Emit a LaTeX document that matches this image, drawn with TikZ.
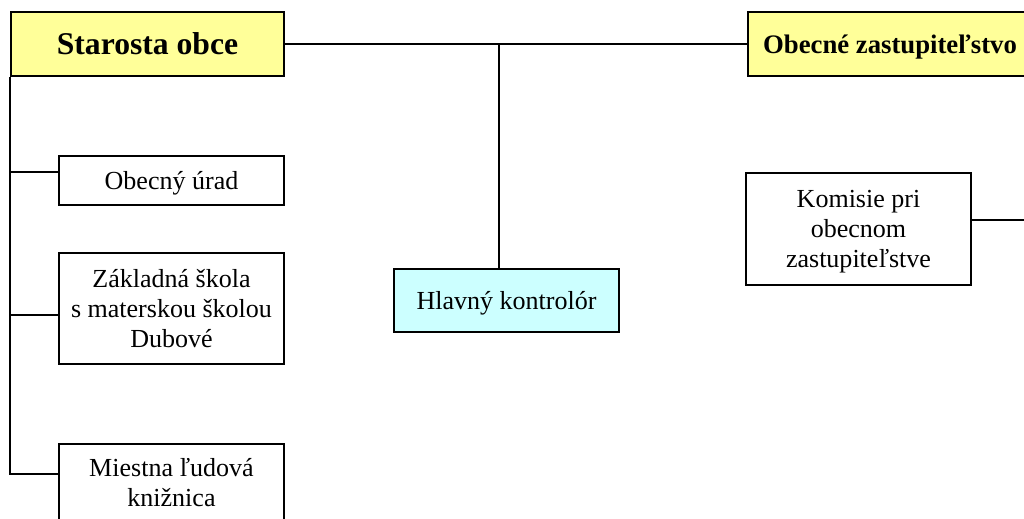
\documentclass[tikz,border=0pt]{standalone}
\usepackage{fontspec}
\setmainfont{Liberation Serif}
\usetikzlibrary{calc,fit}
\definecolor{headfill}{HTML}{FFFF99}
\definecolor{ctrlfill}{HTML}{CCFFFF}
\tikzset{
  box/.style={draw=black, line width=0.6pt, fill=white, align=center, inner sep=0pt,
    text depth=0pt, font=\fontsize{7.4}{8.5}\selectfont},
  headbox/.style={box, fill=headfill, font=\fontsize{9}{11}\selectfont\bfseries},
  frame/.style={draw=black, line width=0.6pt, fill=white, inner sep=0pt},
  label/.style={align=center, inner sep=0pt, text depth=0pt, font=\fontsize{7.4}{8.5}\selectfont},
  link/.style={draw=black, line width=0.6pt}
}
\begin{document}
\begin{tikzpicture}[x=0.01cm,y=-0.01cm]
\useasboundingbox (0,0) rectangle (1024,518);
\clip (0,0) rectangle (1024,518);

% top level
\node[headbox, minimum width=2.73cm, minimum height=0.64cm] (star) at (147.5,44) {Starosta obce};
\node[headbox, font=\fontsize{7.6}{9}\selectfont\bfseries,
      minimum width=2.84cm, minimum height=0.64cm] (zast) at (890,44) {Obecné zastupiteľstvo};

% controller
\node[box, fill=ctrlfill, minimum width=2.25cm, minimum height=0.63cm] (kontr) at (506.5,300.3) {Hlavný kontrolór};

% bodies under the mayor
\node[box, minimum width=2.25cm, minimum height=0.49cm] (urad) at (171.5,180.5) {Obecný úrad};
\node[box, minimum width=2.25cm, minimum height=1.11cm] (skola) at (171.5,308.5)
  {Základná škola\\s materskou školou\\Dubové};
\node[frame, fit={(59,444) (284,545)}] (lib) {};
\node[label] (libt) at (171.5,482.8) {Miestna ľudová\\knižnica};

% council committees
\node[box, minimum width=2.25cm, minimum height=1.12cm] (kom) at (858.5,229) {Komisie pri\\obecnom\\zastupiteľstve};

% connectors
\draw[link] (star.east) -- (zast.west);
\coordinate (tee) at (499,44);
\draw[link] (tee) -- (tee |- kontr.north);

\coordinate (uradIn) at ($(urad.north west)+(0,17)$);
\coordinate (skolaIn) at ($(skola.north west)+(0,63)$);
\coordinate (libIn) at ($(lib.north west)+(0,31)$);
\draw[link] (star.south west) |- (libIn);
\draw[link] (uradIn) -- (uradIn -| star.west);
\draw[link] (skolaIn) -- (skolaIn -| star.west);

\coordinate (komOut) at ($(kom.north east)+(0,48)$);
\coordinate (rim) at (1030,0);
\draw[link] (komOut) -- (komOut -| rim);
\end{tikzpicture}
\end{document}
